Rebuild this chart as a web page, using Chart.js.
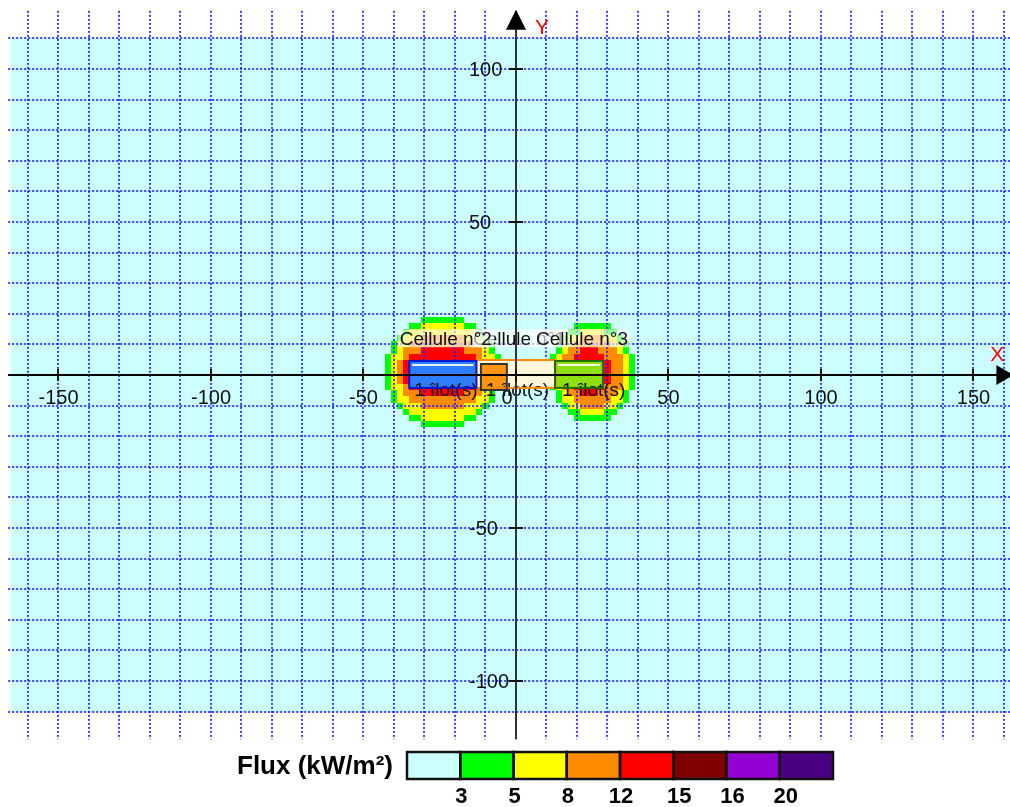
<!DOCTYPE html>
<html>
<head>
<meta charset="utf-8">
<script src="https://cdn.jsdelivr.net/npm/chart.js@4.4.1/dist/chart.umd.min.js"></script>
<style>
    html, body { margin: 0; padding: 0; background: #fff; }
    #wrap { width: 1010px; height: 807px; position: relative; }
</style>
</head>
<body>
<div id="wrap"><canvas id="fluxMap"></canvas></div>
<script>
// graduations des axes (m)
const xTicks = [-150, -100, -50, 0, 50, 100, 150];
const yTicks = [100, 50, -50, -100];

// seuils de flux (kW/m²) de la légende
const fluxThresholds = [3, 5, 8, 12, 15, 16, 20];

// cellules (m)
const cellNames = ['Cellule n°1', 'Cellule n°2', 'Cellule n°3'];
const cellX0 = [-13, -35, 12.8];
const cellX1 = [13, -13, 28.5];
const cellY0 = [-4.2, -4.2, -4.2];
const cellY1 = [4.9, 4.6, 4.6];

// îlots (m)
const ilotLabels = ['1 îlot(s)', '1 îlot(s)', '1 îlot(s)'];
const ilotX0 = [-11.5, -35, 12.8];
const ilotX1 = [-3, -13, 28.5];
const ilotY0 = [-4.9, -4.2, -4.2];
const ilotY1 = [3.6, 4.6, 4.6];
const ilotLabelX = [0.5, -23, 25.5];

// zones d'effets, seuils 3 / 5 / 8 / 12 kW/m² (m)
const zone2X = [[-43, -5], [-41, -7], [-39, -9], [-37, -11]];
const zone2Y = [[-17, 19], [-15, 17], [-11, 13], [-7, 9]];
const zone3X = [[11, 39], [13, 37], [15, 35], [17, 31]];
const zone3Y = [[-15, 17], [-13, 15], [-11, 13], [-7, 9]];

const gridStep = 2; // maillage du calcul de flux

// styles
const fluxColors = ['#ccffff', '#00ff00', '#ffff00', '#ff8c00', '#ff0000', '#800000', '#9400d3', '#4b0082'];
const cellFill = ['#fff6dc', '#2f7dff', '#8fe010'];
const cellStroke = ['#ff8c00', '#0018d8', '#1c6e00'];
const ilotFill = ['#ff9410', null, null];
const FONT = '"Liberation Sans", Arial, sans-serif';

function inZone(zx, zy, x, y) {
    const xm = (zx[0] + zx[1]) / 2, ym = (zy[0] + zy[1]) / 2;
    const hw = (zx[1] - zx[0]) / 2, hh = (zy[1] - zy[0]) / 2;
    const p = 2.1;
    return Math.pow(Math.abs(x - xm) / hw, p) + Math.pow(Math.abs(y - ym) / hh, p) <= 1;
}

function fluxLevel(x, y) {
    let lvl = 0;
    [[zone2X, zone2Y], [zone3X, zone3Y]].forEach(([zx, zy]) => {
        for (let k = 0; k < zx.length; k++) {
            if (inZone(zx[k], zy[k], x, y)) lvl = Math.max(lvl, k + 1);
        }
    });
    return lvl;
}

const mapPlugin = {
    id: 'mapPlugin',
    beforeDatasetsDraw(chart) {
        const ctx = chart.ctx;
        const X = v => chart.scales.x.getPixelForValue(v);
        const Y = v => chart.scales.y.getPixelForValue(v);
        ctx.save();

        // fond
        ctx.fillStyle = fluxColors[0];
        ctx.fillRect(Math.round(X(-165.5)), Math.round(Y(110)), chart.width, Math.round(Y(-110)) - Math.round(Y(110)));

        // mailles de flux
        for (let gx = -60; gx <= 60; gx += gridStep) {
            for (let gy = -30; gy <= 30; gy += gridStep) {
                const lvl = fluxLevel(gx, gy);
                if (lvl < 1) continue;
                const l = Math.round(X(gx - gridStep / 2)), r = Math.round(X(gx + gridStep / 2));
                const t = Math.round(Y(gy + gridStep / 2)), b = Math.round(Y(gy - gridStep / 2));
                ctx.fillStyle = fluxColors[lvl];
                ctx.fillRect(l, t, r - l, b - t);
            }
        }

        // quadrillage pointillé
        ctx.strokeStyle = 'rgba(30,30,255,0.85)';
        ctx.lineWidth = 2;
        ctx.setLineDash([2, 2]);
        for (let v = -160; v <= 160; v += 10) {
            const x = Math.round(X(v));
            ctx.beginPath();
            ctx.moveTo(x, Y(119));
            ctx.lineTo(x, Y(-119));
            ctx.stroke();
        }
        for (let v = -110; v <= 110; v += 10) {
            const y = Math.round(Y(v));
            ctx.beginPath();
            ctx.moveTo(X(-166.5), y);
            ctx.lineTo(chart.width, y);
            ctx.stroke();
        }
        ctx.setLineDash([]);

        // cellules et îlots
        for (let i = 0; i < cellNames.length; i++) {
            const l = X(cellX0[i]), r = X(cellX1[i]), t = Y(cellY1[i]), b = Y(cellY0[i]);
            ctx.fillStyle = cellFill[i];
            ctx.fillRect(l, t, r - l, b - t);
            if (ilotFill[i]) {
                ctx.fillStyle = ilotFill[i];
                ctx.fillRect(X(ilotX0[i]), Y(ilotY1[i]), X(ilotX1[i]) - X(ilotX0[i]), Y(ilotY0[i]) - Y(ilotY1[i]));
            }
        }
        ctx.font = '19px ' + FONT;
        ctx.fillStyle = '#111';
        ctx.textAlign = 'center';
        ctx.textBaseline = 'middle';
        for (let i = 0; i < ilotLabels.length; i++) {
            ctx.fillText(ilotLabels[i], X(ilotLabelX[i]), Y(-5.3));
        }
        for (let i = 0; i < cellNames.length; i++) {
            const l = X(cellX0[i]), r = X(cellX1[i]), t = Y(cellY1[i]), b = Y(cellY0[i]);
            ctx.lineWidth = 2;
            ctx.strokeStyle = cellStroke[i];
            ctx.strokeRect(l, t, r - l, b - t);
            if (ilotFill[i]) {
                ctx.strokeStyle = '#333';
                ctx.strokeRect(X(ilotX0[i]), Y(ilotY1[i]), X(ilotX1[i]) - X(ilotX0[i]), Y(ilotY0[i]) - Y(ilotY1[i]));
            } else {
                ctx.strokeStyle = 'rgba(255,255,255,0.9)';
                ctx.beginPath();
                ctx.moveTo(l + 3, t + 4);
                ctx.lineTo(r - 3, t + 4);
                ctx.stroke();
            }
        }

        // noms des cellules
        ctx.font = '19px ' + FONT;
        for (let i = 0; i < cellNames.length; i++) {
            const cx = X((cellX0[i] + cellX1[i]) / 2) + 3, cy = Y(12);
            const w = ctx.measureText(cellNames[i]).width;
            ctx.fillStyle = 'rgba(255,255,255,0.62)';
            ctx.fillRect(cx - w / 2 - 2, cy - 9, w + 4, 18);
            ctx.fillStyle = '#111';
            ctx.fillText(cellNames[i], cx, cy + 1);
        }

        // axes
        const x0 = Math.round(X(0)), y0 = Math.round(Y(0));
        ctx.strokeStyle = '#000';
        ctx.lineWidth = 2;
        ctx.beginPath();
        ctx.moveTo(X(-166.5), y0);
        ctx.lineTo(X(158), y0);
        ctx.stroke();
        ctx.strokeStyle = '#333';
        ctx.beginPath();
        ctx.moveTo(x0, Y(-119));
        ctx.lineTo(x0, Y(113));
        ctx.stroke();
        ctx.fillStyle = '#000';
        ctx.beginPath();
        ctx.moveTo(X(157.5), y0 - 10);
        ctx.lineTo(X(157.5) + 17, y0);
        ctx.lineTo(X(157.5), y0 + 10);
        ctx.closePath();
        ctx.fill();
        ctx.beginPath();
        ctx.moveTo(x0 - 10, Y(112.8));
        ctx.lineTo(x0, Y(112.8) - 20);
        ctx.lineTo(x0 + 10, Y(112.8));
        ctx.closePath();
        ctx.fill();

        ctx.strokeStyle = '#111';
        ctx.lineWidth = 2;
        xTicks.forEach(v => {
            const x = Math.round(X(v));
            ctx.beginPath(); ctx.moveTo(x, y0 - 6); ctx.lineTo(x, y0 + 6); ctx.stroke();
        });
        yTicks.forEach(v => {
            const y = Math.round(Y(v));
            ctx.beginPath(); ctx.moveTo(x0 - 7, y); ctx.lineTo(x0 + 7, y); ctx.stroke();
        });

        // graduations
        ctx.font = '20px ' + FONT;
        ctx.fillStyle = '#111';
        ctx.textBaseline = 'middle';
        ctx.textAlign = 'center';
        xTicks.forEach(v => {
            ctx.fillText(String(v), X(v) + (v === 0 ? -9 : 0), y0 + 23);
        });
        ctx.textAlign = 'left';
        yTicks.forEach(v => {
            ctx.fillText(String(v), x0 - 47, Y(v) + 1);
        });

        // noms des axes
        ctx.fillStyle = '#ff0000';
        ctx.font = '21px ' + FONT;
        ctx.textAlign = 'center';
        ctx.fillText('X', X(157.5) + 1, y0 - 20);
        ctx.fillText('Y', x0 + 26, Y(112.8) - 2);

        ctx.restore();
    },
    afterDraw(chart) {
        // légende des flux
        const ctx = chart.ctx;
        ctx.save();
        const left = 407, top = 752, bw = 53.25, bh = 27;
        ctx.font = 'bold 26px ' + FONT;
        ctx.fillStyle = '#000';
        ctx.textAlign = 'right';
        ctx.textBaseline = 'middle';
        ctx.fillText('Flux (kW/m²)', left - 14, top + bh / 2 + 1);
        fluxColors.forEach((c, i) => {
            ctx.fillStyle = c;
            ctx.fillRect(left + i * bw, top, bw, bh);
        });
        ctx.strokeStyle = '#111';
        ctx.lineWidth = 2.5;
        fluxColors.forEach((c, i) => {
            ctx.strokeRect(left + i * bw, top, bw, bh);
        });
        ctx.font = 'bold 22px ' + FONT;
        ctx.textAlign = 'center';
        ctx.fillStyle = '#000';
        fluxThresholds.forEach((t, i) => {
            const shift = i >= 4 ? 6 : 1;
            ctx.fillText(String(t), left + (i + 1) * bw + shift, top + bh + 18);
        });
        ctx.restore();
    }
};

const ctx = document.getElementById('fluxMap').getContext('2d');
const fluxChart = new Chart(ctx, {
    type: 'scatter',
    data: { datasets: [] },
    options: {
        responsive: true,
        maintainAspectRatio: false,
        animation: false,
        devicePixelRatio: 1,
        layout: { padding: { left: 0, right: 0, top: 0, bottom: 67 } },
        plugins: { legend: { display: false }, tooltip: { enabled: false } },
        scales: {
            x: { type: 'linear', min: -169.18, max: 161.97, display: false },
            y: { type: 'linear', min: -119.28, max: 122.55, display: false }
        }
    },
    plugins: [mapPlugin]
});
</script>
</body>
</html>
